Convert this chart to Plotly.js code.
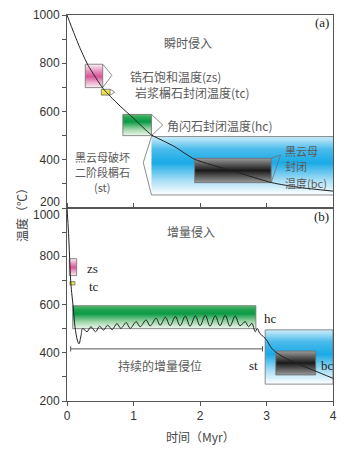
<!DOCTYPE html>
<html><head><meta charset="utf-8">
<script src="https://cdn.plot.ly/plotly-3.0.1.min.js"></script>
<style>html,body{margin:0;padding:0;background:#fff}#chart{width:349px;height:454px}</style>
</head><body><div id="chart"></div>
<script>
// ---- data (time in Myr, temperature in °C) ----
const curveA_t = [0, 0.1, 0.2, 0.32, 0.54, 0.65, 0.8, 1.0, 1.27, 1.45, 1.62, 1.92, 2.5, 3.08, 3.5, 4];
const curveA_T = [1000, 928, 860, 790, 696, 663, 622, 572, 503, 478, 454, 402, 353, 305, 285, 270];

const curveB_t = [0, 0.015, 0.03, 0.04, 0.055, 0.07, 0.095, 0.12, 0.155, 0.18, 0.21, 0.235,
  0.30, 0.36, 0.43, 0.49, 0.55, 0.61, 0.68, 0.75, 0.81, 0.89, 0.95, 1.04, 1.10, 1.19, 1.25, 1.34, 1.40,
  1.48, 1.55, 1.63, 1.70, 1.78, 1.85, 1.93, 2.00, 2.08, 2.15, 2.23, 2.30, 2.38, 2.45, 2.53, 2.60,
  2.68, 2.73, 2.78, 2.83, 2.86, 2.90, 2.95, 3.0, 3.08, 3.2, 3.45, 3.7, 4.0];
const curveB_T = [1000, 935, 855, 790, 700, 650, 585, 508, 453, 437, 470, 501,
  487, 508, 487, 510, 494, 514, 496, 521, 501, 525, 501, 529, 508, 536, 511, 543, 514,
  547, 512, 550, 512, 552, 510, 553, 512, 555, 510, 553, 512, 555, 510, 552, 512,
  529, 508, 522, 487, 501, 480, 468, 453, 418, 391, 356, 328, 294];

// boxes: [t0, t1, T0, T1]
const zsA = [0.275, 0.537, 699, 796];
const tcA = [0.516, 0.647, 668, 692];
const hcA = [0.84, 1.27, 500, 588];
const stA = [1.27, 4, 254, 496];
const bcA = [1.92, 3.07, 305, 406];
const zsB = [0.035, 0.145, 720, 790];
const tcB = [0.045, 0.12, 681, 695];
const hcB = [0.086, 2.84, 500, 595];
const stB = [2.98, 4, 270, 495];
const bcB = [3.14, 3.74, 308, 407];
// pointer tips [t, T]
const zsTip = [0.675, 750];
const tcTip = [0.72, 680];
const hcTip = [1.44, 544];
const stTip = [1.147, 388];
const bcTip = [3.21, 420];
// continuous-emplacement bracket
const bracketT = [0.055, 2.94];
const bracketY = 416;

const yTicksTop = [400, 600, 800, 1000];
const yTicksBot = [200, 400, 600, 800];
const xTicks = [0, 1, 2, 3, 4];

// ---- styles ----
const pinkCS = [[0,'#fbf0f5'],[0.25,'#eaa6c8'],[0.47,'#d9559a'],[0.7,'#e690bb'],[1,'#fbf1f6']];
const yellowCS = [[0,'#e6dc30'],[1,'#f2ea60']];
const greenCS = [[0,'#eef8ef'],[0.3,'#9ed6a8'],[0.65,'#0a9a45'],[0.85,'#25a552'],[1,'#5cbc72']];
const blueCS = [[0,'#ffffff'],[0.25,'#a8def5'],[0.55,'#1aaae6'],[0.78,'#4abbec'],[1,'#cdeefa']];
const blackCS = [[0,'#9a9a9a'],[0.5,'#1a1a1a'],[1,'#9a9a9a']];
const outline = '#6e6e6e';

const traces = [];
function box(b, cs, ax, withLine) {
  traces.push({x:[b[0],b[1],b[1],b[0],b[0]], y:[b[2],b[2],b[3],b[3],b[2]], xaxis:'x', yaxis:ax,
    mode:'lines', fill:'toself', fillgradient:{type:'vertical', colorscale:cs},
    line:{color: outline, width: withLine ? 0.8 : 0}, hoverinfo:'skip', showlegend:false});
}
function poly(xs, ys, ax, color, w) {
  traces.push({x:xs, y:ys, xaxis:'x', yaxis:ax, mode:'lines',
    line:{color:color||outline, width:w||0.8}, hoverinfo:'skip', showlegend:false});
}
// panel a
box(stA, blueCS, 'y', false);
poly([4, stA[0], stTip[0], stA[0], 4], [stA[3], stA[3], stTip[1], stA[2], stA[2]], 'y');
box(bcA, blackCS, 'y', true);
poly([bcA[1], bcTip[0], bcA[1]], [bcA[3], bcTip[1], bcA[2]], 'y');
box(hcA, greenCS, 'y', true);
poly([hcA[1], hcTip[0], hcA[1]], [hcA[3], hcTip[1], hcA[2]], 'y');
box(zsA, pinkCS, 'y', true);
poly([zsA[1], zsTip[0], zsA[1]], [zsA[3], zsTip[1], zsA[2]], 'y');
box(tcA, yellowCS, 'y', true);
poly([tcA[1], tcTip[0], tcA[1]], [tcA[3], tcTip[1], tcA[2]], 'y');
traces.push({x:curveA_t, y:curveA_T, xaxis:'x', yaxis:'y', mode:'lines',
  line:{color:'#222', width:1, shape:'spline', smoothing:0.6}, hoverinfo:'skip', showlegend:false});
// panel b
box(stB, blueCS, 'y2', true);
box(bcB, blackCS, 'y2', true);
box(hcB, greenCS, 'y2', true);
box(zsB, pinkCS, 'y2', true);
box(tcB, yellowCS, 'y2', true);
poly([bracketT[0], bracketT[1], null, bracketT[0], bracketT[0], null, bracketT[1], bracketT[1]],
     [bracketY, bracketY, null, bracketY-11, bracketY+11, null, bracketY-11, bracketY+11], 'y2', '#555', 1);
traces.push({x:curveB_t, y:curveB_T, xaxis:'x', yaxis:'y2', mode:'lines',
  line:{color:'#222', width:1, shape:'spline', smoothing:1.0}, hoverinfo:'skip', showlegend:false});

const cjk = '"Noto Sans CJK SC", sans-serif';
const serif = '"Liberation Serif", serif';
const gray = '#5a5a5a';
function ann(text, x, y, yref, opts) {
  return Object.assign({text, x, y, xref:'x', yref, showarrow:false, xanchor:'center', yanchor:'middle',
    font:{family:cjk, size:12, color:gray}}, opts||{});
}
const small = {family:cjk, size:11, color:gray};
const lbl = {family:serif, size:13, color:'#222'};
const annotations = [
  ann('瞬时侵入', 1.82, 884, 'y'),
  ann('锆石饱和温度(zs)', 0.92, 747, 'y', {xanchor:'left'}),
  ann('岩浆榍石封闭温度(tc)', 0.99, 678, 'y', {xanchor:'left'}),
  ann('角闪石封闭温度(hc)', 1.48, 540, 'y', {xanchor:'left'}),
  ann('黑云母破坏', 0.54, 411, 'y', {font:small, borderpad:0}),
  ann('二阶段榍石', 0.54, 349, 'y', {font:small, borderpad:0}),
  ann('(st)', 0.54, 287, 'y', {font:small, borderpad:0}),
  ann('黑云母', 3.26, 436, 'y', {xanchor:'left', font:small, borderpad:0}),
  ann('封闭', 3.26, 373, 'y', {xanchor:'left', font:small, borderpad:0}),
  ann('温度(bc)', 3.26, 305, 'y', {xanchor:'left', font:small, borderpad:0}),
  ann('(a)', 3.97, 968, 'y', {xanchor:'right', font:lbl}),
  ann('增量侵入', 1.865, 902, 'y2'),
  ann('zs', 0.27, 750, 'y2', {xanchor:'left', font:lbl}),
  ann('tc', 0.296, 674, 'y2', {xanchor:'left', font:lbl}),
  ann('hc', 2.93, 540, 'y2', {xanchor:'left', font:lbl}),
  ann('st', 2.9, 349, 'y2', {xanchor:'right', font:lbl}),
  ann('bc', 3.79, 349, 'y2', {xanchor:'left', font:lbl}),
  ann('持续的增量侵位', 1.4, 349, 'y2'),
  ann('(b)', 3.97, 964, 'y2', {xanchor:'right', font:lbl}),
  {text:'200', xref:'paper', yref:'paper', x:0, y:0.5, xanchor:'right', yanchor:'middle', xshift:-5, yshift:6,
   showarrow:false, font:{family:'"Liberation Sans", Arial, sans-serif', size:12, color:'#333'}},
  {text:'1000', xref:'paper', yref:'paper', x:0, y:0.5, xanchor:'right', yanchor:'middle', xshift:-5, yshift:-7,
   showarrow:false, font:{family:'"Liberation Sans", Arial, sans-serif', size:12, color:'#333'}},
  {text:'温度（℃）', xref:'paper', yref:'paper', x:-0.169, y:0.49, xanchor:'center', yanchor:'middle',
   textangle:-90, showarrow:false, font:{family:cjk, size:12, color:'#444'}},
  {text:'时间（Myr）', xref:'x', yref:'paper', x:2.0, y:-0.093, xanchor:'center', yanchor:'middle',
   showarrow:false, font:{family:cjk, size:12, color:'#444'}}
];

const axLine = '#555';
const tickFont = {family:'"Liberation Sans", Arial, sans-serif', size:12, color:'#333'};
const layout = {
  width:349, height:454, margin:{l:67, r:16, t:15, b:53},
  paper_bgcolor:'#fff', plot_bgcolor:'#fff', showlegend:false,
  xaxis:{range:[0,4], anchor:'y2', tickvals:xTicks, ticktext:xTicks.map(String), ticks:'outside', ticklen:4,
    tickcolor:axLine, showline:true, linecolor:axLine, linewidth:1, mirror:'all', showgrid:false, zeroline:false,
    tickfont:tickFont, fixedrange:true},
  yaxis:{domain:[0.5,1], range:[200,1000], tickvals:yTicksTop, ticktext:yTicksTop.map(String), ticks:'outside',
    ticklen:4, tickcolor:axLine, minor:{dtick:100, tick0:0, ticks:'outside', ticklen:4, tickcolor:axLine},
    showline:true, linecolor:axLine, linewidth:1, mirror:true, showgrid:false, zeroline:false, tickfont:tickFont},
  yaxis2:{domain:[0,0.5], range:[200,1000], tickvals:yTicksBot, ticktext:yTicksBot.map(String), ticks:'outside',
    ticklen:4, tickcolor:axLine, minor:{dtick:100, tick0:0, ticks:'outside', ticklen:4, tickcolor:axLine},
    showline:true, linecolor:axLine, linewidth:1, mirror:true, showgrid:false, zeroline:false, tickfont:tickFont},
  annotations
};
Plotly.newPlot('chart', traces, layout, {displayModeBar:false, staticPlot:true});
</script></body></html>
